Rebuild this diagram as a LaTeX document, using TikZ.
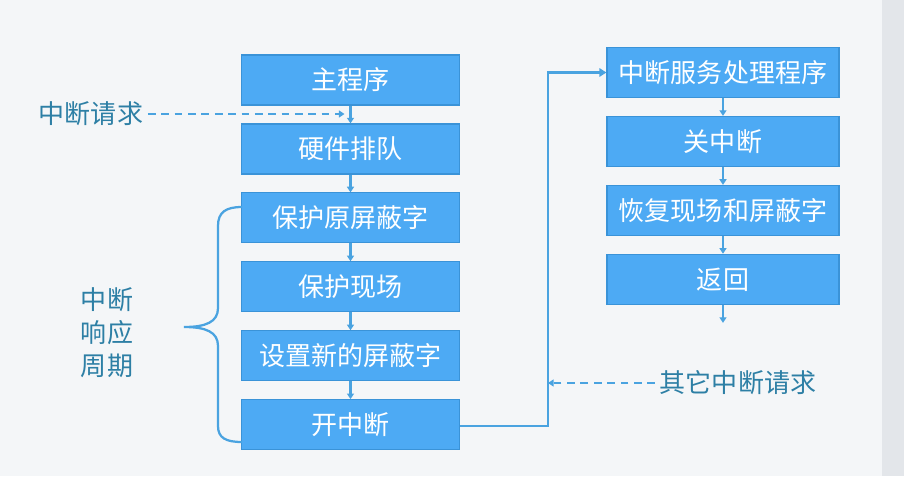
\documentclass[tikz,border=0pt]{standalone}
\usepackage{fontspec}
\setmainfont{Noto Sans CJK SC}
\usetikzlibrary{positioning,calc,arrows.meta}
\usepackage{xcolor}
\definecolor{boxblue}{HTML}{4DAAF4}
\definecolor{boxedge}{HTML}{3A93D8}
\definecolor{linkblue}{HTML}{4AA3E0}
\definecolor{labelteal}{HTML}{2D7FA5}
\definecolor{paper}{HTML}{F4F6F8}
\definecolor{sidestrip}{HTML}{E3E6EA}
\tikzset{
stepbox/.style={
  rectangle,
  draw=boxedge,
  line width=0.8pt,
  fill=boxblue,
  text=white,
  inner sep=0pt,
  minimum height=1.25cm,
  font=\fontsize{18.5}{22}\selectfont
  },
leftbox/.style={stepbox,minimum width=5.43cm},
rightbox/.style={stepbox,minimum width=5.8cm},
link/.style={draw=linkblue,line width=1.6pt,-{Triangle[length=4pt,width=5pt]}},
request/.style={link,dash pattern=on 5.5pt off 4pt},
label/.style={text=labelteal,font=\fontsize{18.5}{23.5}\selectfont},
%brace/.style={draw=linkblue,line width=1.6pt}
}

\begin{document}
\begin{tikzpicture}[x=0.025cm,y=-0.025cm,node distance=0.445cm]
    \useasboundingbox (0,0) rectangle (904,476);
    \fill[paper] (0,0) rectangle (904,476);
    \fill[sidestrip] (882,0) rectangle (904,476);

    % left column: response cycle
    \node [leftbox] (l1) at (350.5,80) {主程序};
    \foreach \t [count=\i from 2, remember=\i as \j (initially 1)] in
        {硬件排队, 保护原屏蔽字, 保护现场, 设置新的屏蔽字, 开中断}
    {
        \node [leftbox, below=of l\j] (l\i) {\t};
    }
    \foreach \i in {1, 2, 3, 4, 5}
    {
        \pgfmathtruncatemacro{\ii}{\i+1}
        \draw [link] (l\i) -- (l\ii);
    }

    % right column: service routine
    \node [rightbox] (r1) at (723,72.5) {中断服务处理程序};
    \foreach \t [count=\i from 2, remember=\i as \j (initially 1)] in
        {关中断, 恢复现场和屏蔽字, 返回}
    {
        \node [rightbox, below=of r\j] (r\i) {\t};
    }
    \foreach \i in {1, 2, 3}
    {
        \pgfmathtruncatemacro{\ii}{\i+1}
        \draw [link] (r\i) -- (r\ii);
    }
    \coordinate [below=0.45cm of r4.south] (rout);
    \draw [link] (r4) -- (rout);

    % jump into the service routine
    \coordinate (bus) at (548,426);
    \draw [link,-{Triangle[length=5pt,width=6pt]}] (l6.east |- bus) -- (bus) |- (r1.west);

    % requests
    \node [label] (req) at (91,114) {中断请求};
    \coordinate (join) at ($(l1.south)!0.5!(l2.north)$);
    \draw [request] (req.east) -- ($(req.east -| join)+(-6,0)$);
    \node [label] (other) at (738,383) {其它中断请求};
    \draw [request] (other.west) -- (other.west -| bus);

    % brace
    \node [label,align=center] (cycle) at (107,333) {中断\\响应\\周期};
    \coordinate (tip) at (184,327);
    \draw [draw=linkblue,line width=1.6pt]
        (242,207) .. controls (226,207) and (218,212) .. (218,226)
        -- (218,308) .. controls (218,322) and (206,327) .. (tip)
        .. controls (206,327) and (218,332) .. (218,346)
        -- (218,426) .. controls (218,438) and (226,442) .. (242,442);
\end{tikzpicture}
\end{document}
